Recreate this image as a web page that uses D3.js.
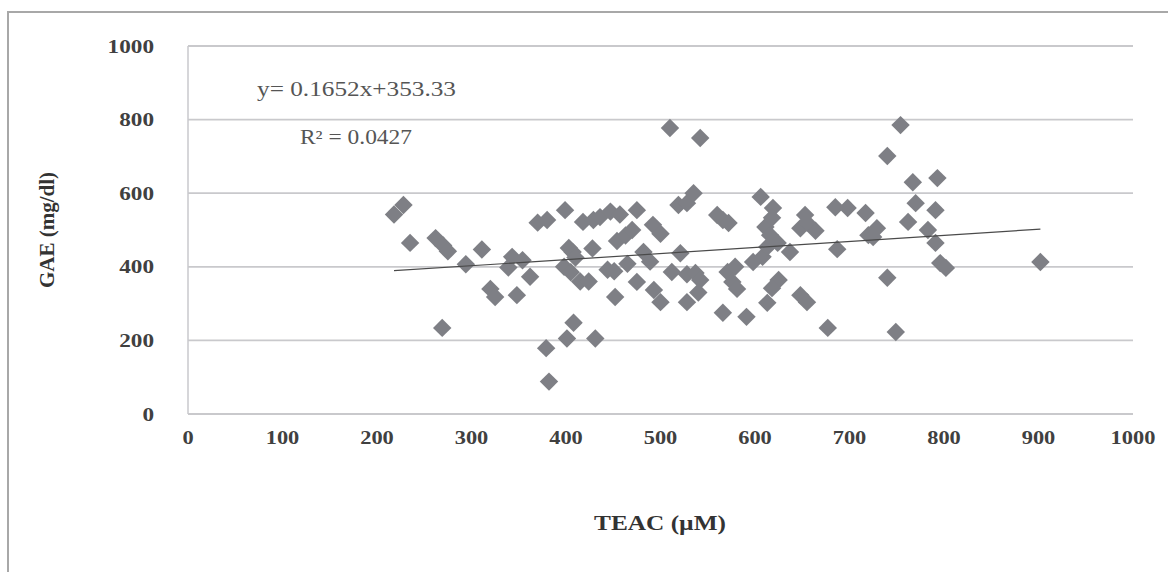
<!DOCTYPE html>
<html><head><meta charset="utf-8">
<script src="https://cdn.jsdelivr.net/npm/d3@7"></script>
<style>body{margin:0;background:#fff}svg{display:block}</style>
</head><body>
<svg id="c" width="1168" height="572"></svg>
<script>
const teac = [218,228,235,262,270,275,269,294,311,320,325,348,343,354,339,362,370,380,379,382,
399,401,408,431,403,407,410,398,405,415,424,428,418,429,436,447,457,475,454,463,
470,492,500,444,451,465,482,489,475,452,493,500,512,521,528,537,528,542,540,510,
542,519,528,535,560,566,572,566,591,571,579,576,581,598,608,606,619,611,618,616,
624,613,637,625,618,613,648,655,653,648,664,655,685,698,687,677,717,729,720,725,
740,754,767,793,770,791,762,783,791,796,802,740,749,902];
const gae = [542,568,465,478,458,442,234,407,447,340,318,323,427,418,398,373,520,527,179,88,
554,205,248,205,451,440,425,400,385,360,360,450,522,527,535,550,542,554,470,485,
500,514,490,392,388,408,440,414,359,318,337,304,386,437,380,383,304,364,330,777,
750,568,573,600,541,527,519,275,264,386,400,359,340,413,427,590,560,508,533,486,
465,454,440,364,342,302,323,304,541,505,498,520,562,560,448,234,546,505,486,481,
701,785,630,641,573,554,522,500,465,410,397,370,223,413];
const xTicks = [0,100,200,300,400,500,600,700,800,900,1000];
const yTicks = [0,200,400,600,800,1000];
const slope = 0.1652, intercept = 353.33;
const eqText = "y= 0.1652x+353.33";
const r2Text = "R² = 0.0427";
const xTitle = "TEAC (µM)", yTitle = "GAE (mg/dl)";

const svg = d3.select("#c");
const x = d3.scaleLinear().domain([0,1000]).range([188,1133]);
const y = d3.scaleLinear().domain([0,1000]).range([414,46]);
const font = "'Liberation Serif','Times New Roman',serif";

svg.append("path").attr("d","M8,572V12H1168").attr("fill","none").attr("stroke","#a8a8a8").attr("stroke-width",2);

svg.append("g").selectAll("line").data(yTicks).join("line")
  .attr("x1",x(0)).attr("x2",x(1000)).attr("y1",d=>y(d)).attr("y2",d=>y(d))
  .attr("stroke","#c9c9cc").attr("stroke-width",1.8);
svg.append("line").attr("x1",x(0)).attr("x2",x(0)).attr("y1",y(0)).attr("y2",y(1000))
  .attr("stroke","#c9c9cc").attr("stroke-width",1.5);

svg.append("g").selectAll("text").data(yTicks).join("text")
  .attr("x",154).attr("y",d=>y(d)).attr("dy","0.35em").attr("text-anchor","end")
  .attr("font-family",font).attr("font-size",19).attr("font-weight","bold").attr("fill","#404040")
  .attr("textLength",d=>String(d).length*11.6).attr("lengthAdjust","spacingAndGlyphs")
  .text(d=>d);
svg.append("g").selectAll("text").data(xTicks).join("text")
  .attr("x",d=>x(d)).attr("y",437).attr("dy","0.35em").attr("text-anchor","middle")
  .attr("font-family",font).attr("font-size",19).attr("font-weight","bold").attr("fill","#404040")
  .attr("textLength",d=>String(d).length*11.2).attr("lengthAdjust","spacingAndGlyphs")
  .text(d=>d);

svg.append("g").selectAll("path").data(teac.map((t,i)=>[t,gae[i]])).join("path")
  .attr("transform",d=>`translate(${x(d[0])},${y(d[1])}) rotate(45)`)
  .attr("d",d3.symbol().type(d3.symbolSquare).size(170)())
  .attr("fill","#7e7f85");

const xr = d3.extent(teac);
svg.append("line").attr("x1",x(xr[0])).attr("x2",x(xr[1]))
  .attr("y1",y(slope*xr[0]+intercept)).attr("y2",y(slope*xr[1]+intercept))
  .attr("stroke","#4a4a4a").attr("stroke-width",1.2);

svg.append("text").attr("x",257).attr("y",89).attr("dy","0.35em")
  .attr("font-family",font).attr("font-size",20).attr("fill","#555")
  .attr("textLength",199).attr("lengthAdjust","spacingAndGlyphs").text(eqText);
svg.append("text").attr("x",300).attr("y",137).attr("dy","0.35em")
  .attr("font-family",font).attr("font-size",20).attr("fill","#555")
  .attr("textLength",112).attr("lengthAdjust","spacingAndGlyphs").text(r2Text);

svg.append("text").attr("x",660).attr("y",523).attr("dy","0.35em").attr("text-anchor","middle")
  .attr("font-family",font).attr("font-size",21).attr("font-weight","bold").attr("fill","#333")
  .attr("textLength",132).attr("lengthAdjust","spacingAndGlyphs").text(xTitle);
svg.append("text").attr("transform","translate(47,230) rotate(-90)").attr("dy","0.35em").attr("text-anchor","middle")
  .attr("font-family",font).attr("font-size",21).attr("font-weight","bold").attr("fill","#333").text(yTitle);
</script>
</body></html>
